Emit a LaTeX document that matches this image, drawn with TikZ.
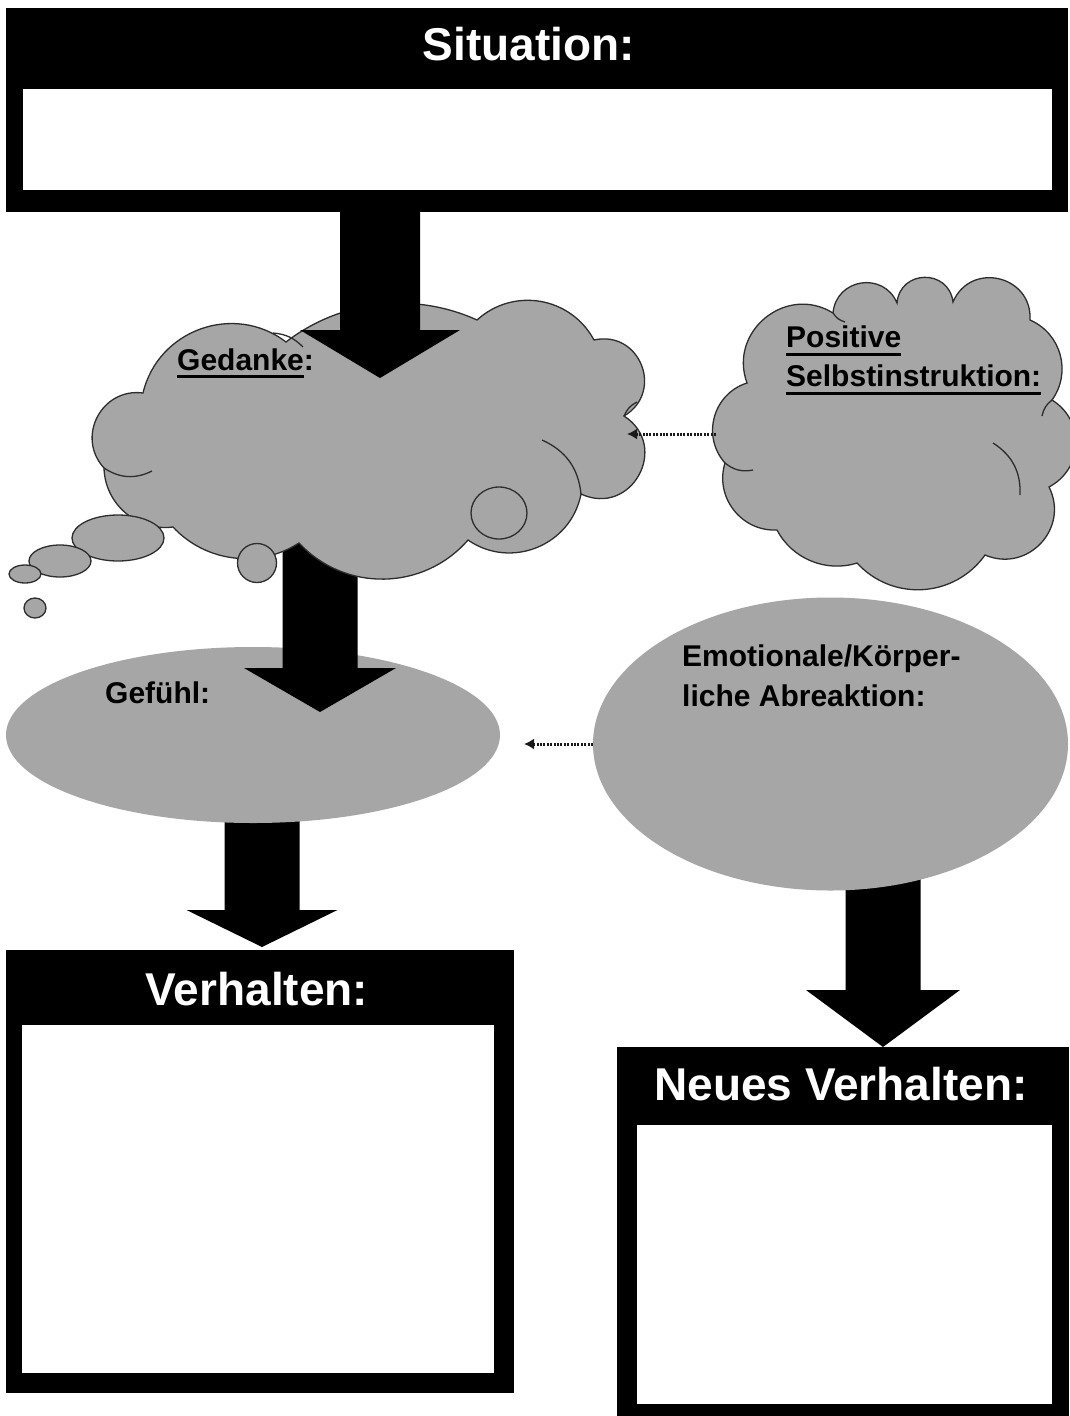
\documentclass[tikz,border=0pt]{standalone}
\usepackage{fontspec}
\setmainfont{Liberation Sans}
\usetikzlibrary{calc,shapes.geometric,arrows.meta}
\definecolor{cgray}{RGB}{166,166,166}
\definecolor{cline}{RGB}{45,45,45}
\definecolor{cdot}{RGB}{25,25,25}
\newcommand\ulbar[1]{\leavevmode\setbox0\hbox{#1}\rlap{\rule[-8pt]{\wd0}{2.8pt}}\box0}
% start, tip, shaft half width, head half width, head length
\newcommand\blockarrow[5]{%
  \fill[black] ($(#1)+(-#3,0)$) -- ($(#2)+(-#3,-#5)$) -- ($(#2)+(-#4,-#5)$) -- (#2)
    -- ($(#2)+(#4,-#5)$) -- ($(#2)+(#3,-#5)$) -- ($(#1)+(#3,0)$) -- cycle;}
\pgfdeclarelayer{paper}
\pgfdeclarelayer{back}
\pgfsetlayers{paper,back,main}
\begin{document}
\begin{tikzpicture}[x=1pt,y=-1pt,
  blackbox/.style={rectangle,fill=black,inner sep=0,outer sep=0,draw=none},
  whitebox/.style={rectangle,fill=white,inner sep=0,outer sep=0,draw=none},
  ttl/.style={text=white,font=\fontsize{46}{50}\selectfont\bfseries,inner sep=0,anchor=base},
  lbl/.style={text=black,font=\fontsize{30}{39}\selectfont\bfseries,inner sep=0,align=left},
  puff/.style={fill=cgray,draw=cline,line width=1.3pt},
  puffline/.style={draw=cline,line width=1.3pt},
  oval/.style={ellipse,fill=cgray,inner sep=0,outer sep=0,draw=none},
  hint/.style={draw=cdot,line width=3pt,dash pattern=on 2pt off 1.4pt,-{Latex[length=10pt,width=11pt]}}]
\useasboundingbox (0,0) rectangle (1069,1416);
\begin{pgfonlayer}{paper}
  \fill[white] (0,0) rectangle (1069,1416);
\end{pgfonlayer}

% Situation box
\node[blackbox,minimum width=1062pt,minimum height=204pt] (sitbox) at (537,110) {};
\node[whitebox,minimum width=1029pt,minimum height=101pt] (sitin) at (537.5,139.5) {};
\node[ttl] (sitl) at (529,60) {Situation:};

% ellipses
\node[oval,minimum width=494pt,minimum height=176pt] (gef) at (253,735) {};
\node[oval,minimum width=475pt,minimum height=293pt] (emo) at (830.5,744) {};

% arrows under ellipses
\coordinate (a3tip) at (262,947);
\coordinate (a4tip) at (883,1047);
\coordinate (a3s) at (gef.center -| a3tip);
\coordinate (a4s) at (emo.center -| a4tip);
\begin{pgfonlayer}{back}
  \blockarrow{a3s}{a3tip}{37.5}{75.5}{37}
  \blockarrow{a4s}{a4tip}{37.5}{77}{57}
\end{pgfonlayer}

% arrow from Gedanke to Gefuehl
\coordinate (ged) at (375,440);
\coordinate (a2tip) at (320,712);
\coordinate (a2s) at (ged -| a2tip);
\blockarrow{a2s}{a2tip}{37.5}{76}{44}

% Gedanke cloud
\filldraw[puff] (104,468) to[bend left=70,looseness=1.27] (143,393)
  to[bend left=57,looseness=1.1] (286,342)
  to[bend left=31,looseness=0.92] (477,320)
  to[bend left=52,looseness=1.06] (594,340)
  to[bend left=81,looseness=1.48] (624,416)
  to[bend left=86,looseness=1.6] (581,494)
  to[bend left=57,looseness=1.1] (468,540)
  to[bend left=48,looseness=1.02] (299,543)
  to[bend left=40,looseness=0.96] (173,527)
  to[bend left=48,looseness=1.02] (104,468) -- cycle;
\draw[puffline] (104,468) to[bend right=30] (152,471);
\draw[puffline] (581,494) to[bend right=30] (542,440);
\draw[puffline] (624,416) to[bend left=20] (637,402);
\draw[puffline] (273,333) to[bend left=20] (303,347);
\filldraw[puff] (499,513) ellipse [x radius=28, y radius=26];
\filldraw[puff] (257,563) ellipse [x radius=19.5, y radius=19.5];
% thought bubbles
\filldraw[puff] (118,538) ellipse [x radius=46, y radius=23];
\filldraw[puff] (60,561) ellipse [x radius=31, y radius=16];
\filldraw[puff] (25,574) ellipse [x radius=16, y radius=9];
\filldraw[puff] (35,608) ellipse [x radius=11, y radius=10];

% arrow from Situation to Gedanke
\coordinate (a1tip) at (380,378);
\coordinate (a1s) at ($(sitbox.south -| a1tip)+(0,-6)$);
\blockarrow{a1s}{a1tip}{40}{80}{48}

% Positive Selbstinstruktion cloud
\filldraw[puff] (725,463) to[bend left=57,looseness=1.1] (747,383)
  to[bend left=71,looseness=1.27] (833,313)
  to[bend left=76,looseness=1.37] (897,303)
  to[bend left=84,looseness=1.54] (953,302)
  to[bend left=80,looseness=1.45] (1030,320)
  to[bend left=51,looseness=1.05] (1052,400)
  to[bend left=60,looseness=1.15] (1049,487)
  to[bend left=70,looseness=1.27] (985,555)
  to[bend left=51,looseness=1.05] (857,563)
  to[bend left=40,looseness=0.96] (777,530)
  to[bend left=55,looseness=1.08] (725,463) -- cycle;
\draw[puffline] (725,463) to[bend right=25] (753,470);
\draw[puffline] (1020,495) to[bend right=30] (993,443);
\draw[puffline] (1052,400) to[bend right=20] (1042,416);
\draw[puffline] (833,313) to[bend right=20] (845,322);

% dotted hints
\coordinate (cl2w) at (716,434);
\coordinate (h1tip) at (627,434);
\draw[hint] (cl2w) -- (h1tip);
\coordinate (h2tip) at (524,744);
\draw[hint] (emo.west) -- (h2tip);

% labels
\node[lbl,anchor=base west] (gedl) at (177,370) {\ulbar{Gedanke}:};
\node[lbl,anchor=base west] (gefl) at (105,703) {Gefühl:};
\node[lbl,anchor=north west] (posl) at (786,326) {\ulbar{Positive}\\\ulbar{Selbstinstruktion:}};
\node[lbl,anchor=north west,font=\fontsize{30}{40}\selectfont\bfseries] (emol) at (682,645) {Emotionale/Körper-\\liche Abreaktion:};

% Verhalten box
\node[blackbox,minimum width=508pt,minimum height=443pt] (verbox) at (260,1171.5) {};
\node[whitebox,minimum width=472pt,minimum height=348pt] (verin) at (258,1199) {};
\node[ttl] (verl) at (257,1005) {Verhalten:};

% Neues Verhalten box
\node[blackbox,minimum width=452pt,minimum height=369pt] (neubox) at (843,1231.5) {};
\node[whitebox,minimum width=415pt,minimum height=279pt] (neuin) at (844.5,1264.5) {};
\node[ttl] (neul) at (841,1100) {Neues Verhalten:};
\end{tikzpicture}
\end{document}
